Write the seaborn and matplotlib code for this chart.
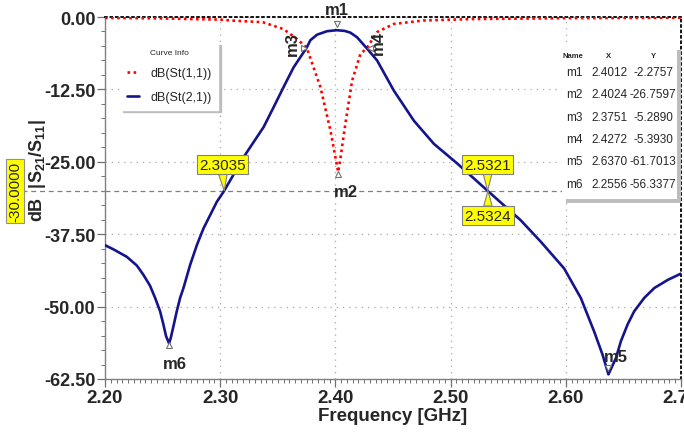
import numpy as np
import pandas as pd
import matplotlib
matplotlib.use('Agg')
import matplotlib.pyplot as plt
import seaborn as sns
from matplotlib.patches import Rectangle
from matplotlib.lines import Line2D
import matplotlib.transforms as mtransforms
from matplotlib.ticker import MultipleLocator

# ---------------- data ----------------
freq_s21 = [2.2000, 2.2072, 2.2189, 2.2276, 2.2333, 2.2391, 2.2435, 2.2478, 2.2507,
            2.2530, 2.2556, 2.2571, 2.2594, 2.2623, 2.2652, 2.2681, 2.2739, 2.2797,
            2.2855, 2.2913, 2.2971, 2.3035, 2.3087, 2.3203, 2.3290, 2.3377, 2.3463,
            2.3550, 2.3637, 2.3751, 2.3783, 2.3841, 2.3928, 2.4012, 2.4080, 2.4130,
            2.4188, 2.4272, 2.4362, 2.4507, 2.4681, 2.4855, 2.5058, 2.5321, 2.5609,
            2.5783, 2.5985, 2.6130, 2.6246, 2.6319, 2.6370, 2.6435, 2.6478, 2.6536,
            2.6594, 2.6681, 2.6768, 2.6884, 2.7000]
s21_db = [-39.4, -40.1, -41.4, -42.9, -44.5, -46.4, -48.5, -50.8, -53.1,
          -55.1, -56.34, -55.4, -53.4, -50.8, -48.5, -46.8, -42.8, -39.4,
          -36.5, -34.2, -31.9, -30.0, -28.2, -24.2, -21.6, -19.0, -15.6,
          -12.1, -8.7, -5.29, -4.0, -3.05, -2.45, -2.28, -2.4, -2.7,
          -3.5, -5.39, -7.5, -12.7, -17.9, -21.9, -25.3, -30.0, -35.1,
          -38.8, -43.4, -48.5, -54.3, -58.3, -61.70, -58.9, -56.0, -53.1,
          -50.8, -48.5, -46.8, -45.4, -44.3]

freq_s11 = [2.2000, 2.2500, 2.3000, 2.3087, 2.3370, 2.3550, 2.3667, 2.3751, 2.3870,
            2.3957, 2.4024, 2.4043, 2.4087, 2.4145, 2.4217, 2.4272, 2.4362, 2.4507,
            2.4765, 2.5200, 2.6000, 2.7000]
s11_db = [-0.15, -0.25, -0.45, -0.6, -0.9, -2.1, -3.8, -5.29, -12.1,
          -19.6, -26.76, -24.5, -18.4, -11.0, -6.4, -5.39, -2.6, -1.2,
          -0.6, -0.35, -0.2, -0.12]

curve_labels = ['dB(St(1,1))', 'dB(St(2,1))']

marker_names = ['m1', 'm2', 'm3', 'm4', 'm5', 'm6']
marker_x = [2.4012, 2.4024, 2.3751, 2.4272, 2.6370, 2.2556]
marker_y = [-2.2757, -26.7597, -5.2890, -5.3930, -61.7013, -56.3377]

x_ticks = [2.20, 2.30, 2.40, 2.50, 2.60, 2.70]
x_tick_labels = ['2.20', '2.30', '2.40', '2.50', '2.60', '2.70']
y_ticks = [0.0, -12.5, -25.0, -37.5, -50.0, -62.5]
y_tick_labels = ['0.00', '-12.50', '-25.00', '-37.50', '-50.00', '-62.50']

threshold_db = -30.0
crossing_freqs = [2.3035, 2.5321, 2.5324]

# ---------------- styling ----------------
sns.set_theme(style='white')
plt.rcParams['font.family'] = ['Liberation Sans', 'DejaVu Sans']
plt.rcParams['mathtext.fontset'] = 'custom'
plt.rcParams['mathtext.rm'] = 'Liberation Sans:bold'
plt.rcParams['mathtext.bf'] = 'Liberation Sans:bold'
plt.rcParams['mathtext.it'] = 'Liberation Sans:bold'

W, H = 684, 435
fig = plt.figure(figsize=(W / 100, H / 100), dpi=100)
fig.patch.set_facecolor('white')
ax_left, ax_right, ax_top, ax_bot = 105, 681, 18, 380
ax = fig.add_axes([ax_left / W, 1 - ax_bot / H, (ax_right - ax_left) / W, (ax_bot - ax_top) / H])
ax.set_facecolor('white')

df = pd.concat([
    pd.DataFrame({'freq': freq_s11, 'db': s11_db, 'curve': curve_labels[0]}),
    pd.DataFrame({'freq': freq_s21, 'db': s21_db, 'curve': curve_labels[1]}),
], ignore_index=True)

palette = {curve_labels[0]: '#ff0000', curve_labels[1]: '#14148c'}
dashes = {curve_labels[0]: (1, 1.3), curve_labels[1]: ''}
sns.lineplot(data=df, x='freq', y='db', hue='curve', style='curve',
             hue_order=curve_labels, style_order=curve_labels,
             palette=palette, dashes=dashes, sort=False, estimator=None,
             linewidth=1.9, ax=ax, zorder=3)

ax.set_xlim(2.20, 2.70)
ax.set_ylim(-62.5, 0.0)
ax.set_xticks(x_ticks)
ax.set_xticklabels(x_tick_labels)
ax.set_yticks(y_ticks)
ax.set_yticklabels(y_tick_labels)
ax.xaxis.set_minor_locator(MultipleLocator(0.005))
ax.yaxis.set_minor_locator(MultipleLocator(2.5))
ax.tick_params(axis='both', which='major', direction='out', length=6, width=0.9,
               color='#707070', pad=1, bottom=True, left=True)
ax.tick_params(axis='both', which='minor', direction='out', length=3, width=0.7,
               color='#707070', bottom=True, left=True)
for lab in ax.get_yticklabels():
    lab.set_fontsize(13)
    lab.set_fontweight('bold')
for lab in ax.get_xticklabels():
    lab.set_fontsize(13.5)
    lab.set_fontweight('bold')

ax.grid(True, which='major', linestyle=(0, (1, 4)), color='#a8a8a8', linewidth=0.9)
for s in ['left', 'bottom']:
    ax.spines[s].set_color('#808080')
    ax.spines[s].set_linewidth(1.0)
for s in ['top', 'right']:
    ax.spines[s].set_color('black')
    ax.spines[s].set_linestyle((0, (1, 2)))
    ax.spines[s].set_linewidth(1.3)

ax.set_xlabel('Frequency [GHz]', fontsize=13.5, fontweight='bold', labelpad=1)
ax.set_ylabel(r'dB  |S$_{\mathrm{21}}$/S$_{\mathrm{11}}$|', fontsize=13, fontweight='bold')
ax.yaxis.set_label_coords(-0.099, 0.58)

# threshold line
ax.axhline(threshold_db, color='#808080', linestyle=(0, (4, 3)), linewidth=0.9, zorder=2)
y_thr_px = ax_top + (0 - threshold_db) / 62.5 * (ax_bot - ax_top)
fig.add_artist(Line2D([22 / W, ax_left / W], [1 - y_thr_px / H] * 2, transform=fig.transFigure,
                      color='#808080', linestyle=(0, (4, 3)), linewidth=0.9))
fig.text(15 / W, 1 - y_thr_px / H, f'{threshold_db:.4f}', rotation=90, ha='center', va='center',
         fontsize=11, bbox=dict(boxstyle='square,pad=0.12', fc='#ffff00', ec='#909090', lw=0.8))

# legend
handles, labels = ax.get_legend_handles_labels()
leg = ax.legend(handles, labels, title='Curve Info', loc='upper left',
                bbox_to_anchor=(0.027, 0.93), fontsize=9, title_fontsize=6,
                frameon=True, fancybox=False, handlelength=1.0, handletextpad=0.9,
                borderpad=0.5, borderaxespad=0.0, labelspacing=0.95,
                shadow={'color': '#bdbdbd', 'alpha': 1})
leg.get_frame().set_edgecolor('white')
leg.get_frame().set_facecolor('white')

# marker symbols and labels
px2pt = 0.72
marker_syms = ['v', '^', '>', '<', 'v', '^']
marker_sym_off = [(0, 6), (0, -2), (-3, 0), (3, 0), (0, 6), (0, -2)]
marker_txt_off = [(0, 21), (8, -20), (-14, 5), (12, 6), (7, 18), (6, -20)]
marker_rot = [0, 0, 90, 90, 0, 0]
for name, mx, my, sym, so, to, rot in zip(marker_names, marker_x, marker_y, marker_syms,
                                         marker_sym_off, marker_txt_off, marker_rot):
    tr = mtransforms.offset_copy(ax.transData, fig=fig, x=so[0] * px2pt, y=so[1] * px2pt, units='points')
    ax.plot([mx], [my], marker=sym, markersize=5, mfc='white', mec='#707070', mew=0.8,
            transform=tr, zorder=5, clip_on=False, linestyle='none')
    ax.annotate(name, xy=(mx, my), xytext=(to[0] * px2pt, to[1] * px2pt), textcoords='offset points',
                ha='center', va='center', fontsize=12, fontweight='bold', rotation=rot,
                zorder=6, annotation_clip=False)

# yellow crossing callouts
callout_off = [(-2, 26), (0, 26), (0, -25)]
for c, off in zip(crossing_freqs, callout_off):
    ax.annotate(f'{c:.4f}', xy=(c, threshold_db), xytext=(off[0] * px2pt, off[1] * px2pt),
                textcoords='offset points', ha='center', va='center', fontsize=11,
                bbox=dict(boxstyle='square,pad=0.15', fc='#ffff00', ec='#808080', lw=0.8),
                arrowprops=dict(arrowstyle='wedge,tail_width=0.55,shrink_factor=0.5',
                                fc='#ffff00', ec='#808080', lw=0.8, shrinkA=0, shrinkB=0),
                zorder=7)

# marker table
def fxy(px, py):
    return (px / W, 1 - py / H)

tx0, ty0, tx1, ty1 = 562, 47, 677, 200
fig.add_artist(Rectangle(fxy(tx0 + 4, ty1 + 4), (tx1 - tx0) / W, (ty1 - ty0) / H,
                         transform=fig.transFigure, fc='#bdbdbd', ec='none', zorder=8))
fig.add_artist(Rectangle(fxy(tx0, ty1), (tx1 - tx0) / W, (ty1 - ty0) / H,
                         transform=fig.transFigure, fc='white', ec='none', zorder=9))
hdr_y = 56
for txt, cx in zip(['Name', 'X', 'Y'], [573, 609, 653]):
    fig.text(*fxy(cx, hdr_y), txt, ha='center', va='center', fontsize=5.5, fontweight='bold', zorder=10)
row_y0, row_dy = 73, 22.3
for i, (name, mx, my) in enumerate(zip(marker_names, marker_x, marker_y)):
    ry = row_y0 + i * row_dy
    fig.text(*fxy(566, ry), name, ha='left', va='center', fontsize=8.5, zorder=10)
    fig.text(*fxy(609, ry), f'{mx:.4f}', ha='center', va='center', fontsize=8.5, zorder=10)
    fig.text(*fxy(653, ry), f'{my:.4f}', ha='center', va='center', fontsize=8.5, zorder=10)

fig.savefig('out.png', dpi=100, facecolor='white')
